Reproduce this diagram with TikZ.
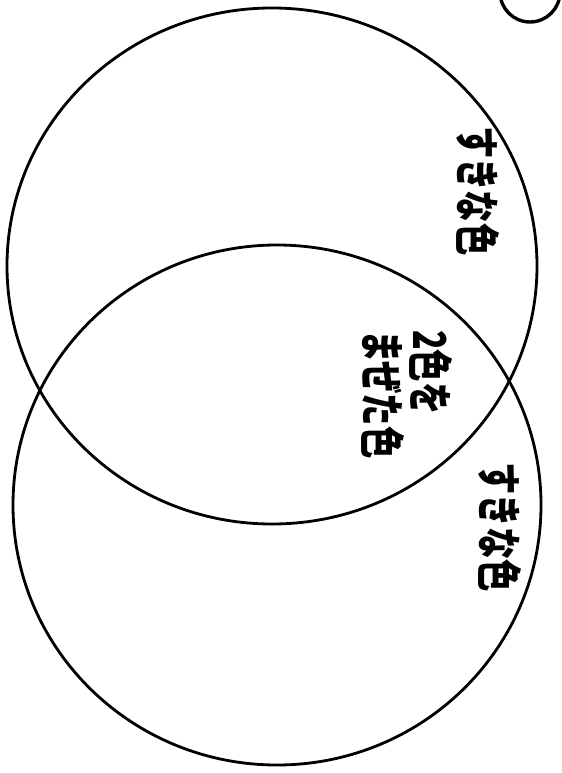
\documentclass[tikz,border=0pt]{standalone}
\usepackage{fontspec}
\newfontfamily\jpfont{Noto Sans CJK JP}
\usetikzlibrary{calc}

\begin{document}
\begin{tikzpicture}[x=0.025cm,y=-0.025cm]
  \useasboundingbox (0,0) rectangle (561,773);
  \tikzset{setlabel/.style={rotate=-90,yscale=1.4,inner sep=0pt,font=\jpfont\bfseries\fontsize{23}{24}\selectfont}}
  \coordinate (U) at (272,266); \coordinate (L) at (277,505);
  \draw[line width=2pt] (U) ellipse [x radius=265, y radius=258];
  \draw[line width=2pt] (L) ellipse [x radius=264, y radius=260];
  \node[setlabel] (su) at (478,191) {すきな色};
  \node[setlabel,anchor=west,align=left] (mix) at (407,330) {2色を\\まぜた色};
  \node[setlabel] (sl) at (500,527) {すきな色};
  % circled mark, cut at the top edge
  \coordinate (M) at (530,-8);
  \draw[line width=2.4pt] (M) circle [radius=30];
\end{tikzpicture}
\end{document}
